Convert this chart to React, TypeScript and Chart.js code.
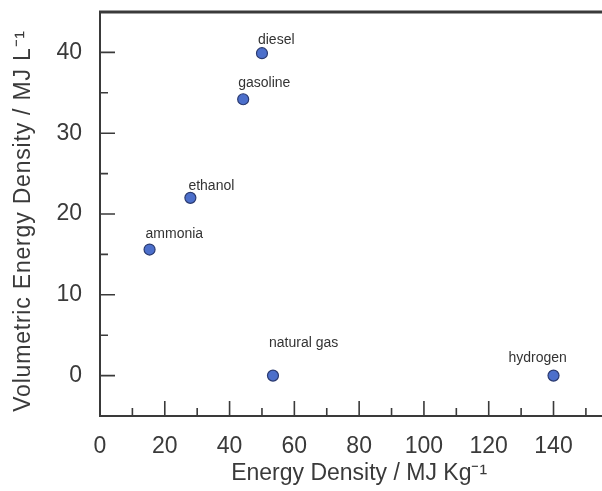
import React, { useEffect, useRef } from "react";
import { Chart, registerables } from "chart.js";

Chart.register(...registerables);

const fuels = ["diesel", "gasoline", "ethanol", "ammonia", "natural gas", "hydrogen"];
const gravimetric = [50, 44.2, 27.9, 15.3, 53.4, 140];
const volumetric = [39.9, 34.2, 22.0, 15.6, 0, 0];

const xTickValues = [0, 20, 40, 60, 80, 100, 120, 140];
const xMinorTickValues = [10, 30, 50, 70, 90, 110, 130, 150];
const yTickValues = [0, 10, 20, 30, 40];
const yMinorTickValues = [5, 15, 25, 35];

const xTitle = "Energy Density / MJ Kg\u207B\u00B9";
const yTitle = "Volumetric Energy Density / MJ L\u207B\u00B9";

// label placement (dx, dy from the marker, in px)
const labelOffsets: [number, number][] = [
  [-4, -9],
  [-5, -12],
  [-2, -8],
  [-4, -12],
  [-4, -29],
  [-45, -14],
];

const FONT = "'Liberation Sans', Arial, Helvetica, sans-serif";
const INK = "#3a3a3a";

const axesPlugin = {
  id: "customAxes",
  beforeDatasetsDraw(chart: any) {
    const { ctx, chartArea } = chart;
    const xs = chart.scales.x;
    const ys = chart.scales.y;
    const { left, right, top, bottom } = chartArea;
    ctx.save();
    ctx.strokeStyle = "#3a3a3a";
    ctx.lineCap = "butt";
    // top border
    ctx.lineWidth = 3;
    ctx.beginPath();
    ctx.moveTo(left - 1, top);
    ctx.lineTo(right + 10, top);
    ctx.stroke();
    // axes
    ctx.lineWidth = 2;
    ctx.beginPath();
    ctx.moveTo(left, top - 1);
    ctx.lineTo(left, bottom);
    ctx.lineTo(right + 10, bottom);
    ctx.stroke();
    // ticks
    ctx.lineWidth = 1.6;
    ctx.beginPath();
    xTickValues.forEach((v) => {
      const px = xs.getPixelForValue(v);
      ctx.moveTo(px, bottom);
      ctx.lineTo(px, bottom - 15);
    });
    xMinorTickValues.forEach((v) => {
      const px = xs.getPixelForValue(v);
      ctx.moveTo(px, bottom);
      ctx.lineTo(px, bottom - 8);
    });
    yTickValues.forEach((v) => {
      const py = ys.getPixelForValue(v);
      ctx.moveTo(left, py);
      ctx.lineTo(left + 15, py);
    });
    yMinorTickValues.forEach((v) => {
      const py = ys.getPixelForValue(v);
      ctx.moveTo(left, py);
      ctx.lineTo(left + 8, py);
    });
    ctx.stroke();

    // y axis title (drawn here for letter spacing control)
    ctx.save();
    ctx.translate(24, (top + bottom) / 2 + 7);
    ctx.rotate(-Math.PI / 2);
    ctx.font = `23px ${FONT}`;
    (ctx as any).letterSpacing = "0.8px";
    ctx.fillStyle = INK;
    ctx.textAlign = "center";
    ctx.textBaseline = "middle";
    ctx.fillText(yTitle, 0, 0);
    ctx.restore();
    ctx.restore();
  },
};

const labelPlugin = {
  id: "pointLabels",
  afterDatasetsDraw(chart: any) {
    const { ctx } = chart;
    const meta = chart.getDatasetMeta(0);
    ctx.save();
    ctx.font = `14px ${FONT}`;
    ctx.fillStyle = "#333";
    ctx.textAlign = "left";
    ctx.textBaseline = "alphabetic";
    meta.data.forEach((pt: any, i: number) => {
      const [dx, dy] = labelOffsets[i];
      ctx.fillText(fuels[i], pt.x + dx, pt.y + dy);
    });
    ctx.restore();
  },
};

export default function App() {
  const ref = useRef<HTMLCanvasElement | null>(null);

  useEffect(() => {
    if (!ref.current) return;
    const chart = new Chart(ref.current, {
      type: "scatter",
      data: {
        datasets: [
          {
            label: "fuels",
            data: gravimetric.map((x, i) => ({ x, y: volumetric[i] })),
            pointRadius: 5.5,
            pointHoverRadius: 5.5,
            backgroundColor: "#4c6fcb",
            borderColor: "#2a3a70",
            borderWidth: 1.2,
          },
        ],
      },
      options: {
        responsive: false,
        animation: false,
        layout: { padding: { top: 12, right: 3, left: 0, bottom: 0 } },
        plugins: {
          legend: { display: false },
          tooltip: { enabled: false },
        },
        scales: {
          x: {
            type: "linear",
            min: 0,
            max: 160,
            grid: { display: false, drawTicks: false },
            border: { display: false },
            afterBuildTicks: (s: any) => {
              s.ticks = xTickValues.map((v) => ({ value: v }));
            },
            afterFit: (s: any) => {
              s.height = 75;
              s.paddingLeft = 0;
              s.paddingRight = 0;
            },
            ticks: {
              padding: 17,
              autoSkip: false,
              maxRotation: 0,
              color: INK,
              font: { family: FONT, size: 23 },
            },
            title: {
              display: true,
              text: xTitle,
              color: INK,
              font: { family: FONT, size: 23 },
              padding: { top: 0, bottom: 4 },
            },
          },
          y: {
            type: "linear",
            min: -5,
            max: 45,
            grid: { display: false, drawTicks: false },
            border: { display: false },
            afterBuildTicks: (s: any) => {
              s.ticks = yTickValues.map((v) => ({ value: v }));
            },
            afterFit: (s: any) => {
              s.width = 100;
              s.paddingTop = 0;
              s.paddingBottom = 0;
            },
            ticks: {
              padding: 18,
              color: INK,
              font: { family: FONT, size: 23 },
            },
            title: { display: false },
          },
        },
      },
      plugins: [axesPlugin, labelPlugin],
    });
    return () => chart.destroy();
  }, []);

  return (
    <div
      style={{
        position: "fixed",
        left: 0,
        top: 0,
        width: 602,
        height: 491,
        overflow: "hidden",
        background: "#fff",
      }}
    >
      <canvas ref={ref} width={625} height={491} style={{ width: 625, height: 491, display: "block" }} />
    </div>
  );
}
